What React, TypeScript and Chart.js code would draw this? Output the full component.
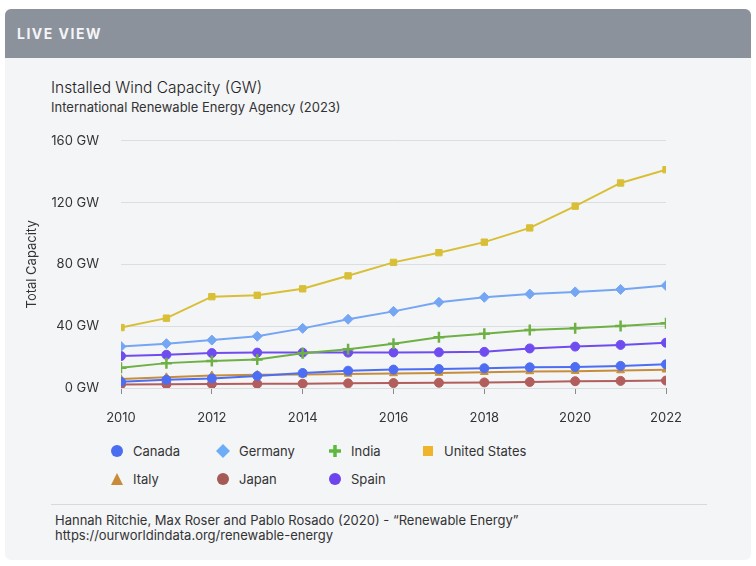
import React, { useEffect, useRef } from "react";
import { Chart, registerables } from "chart.js";

Chart.register(...registerables);

const years = [2010, 2011, 2012, 2013, 2014, 2015, 2016, 2017, 2018, 2019, 2020, 2021, 2022];
const canada = [4.0, 5.3, 6.2, 7.8, 9.7, 11.2, 11.9, 12.3, 12.8, 13.4, 13.6, 14.3, 15.3];
const germany = [26.9, 28.7, 31.0, 33.5, 38.6, 44.5, 49.6, 55.5, 58.7, 60.8, 62.2, 63.8, 66.3];
const india = [13.1, 16.1, 17.4, 18.4, 22.5, 25.1, 28.7, 32.8, 35.1, 37.5, 38.6, 40.1, 41.9];
const unitedStates = [39.1, 45.2, 59.1, 60.0, 64.2, 72.6, 81.3, 87.6, 94.4, 103.6, 117.7, 132.7, 141.3];
const italy = [5.8, 6.9, 8.1, 8.5, 8.7, 9.1, 9.4, 9.7, 10.2, 10.7, 10.9, 11.3, 11.8];
const japan = [2.3, 2.4, 2.6, 2.7, 2.8, 3.0, 3.2, 3.4, 3.6, 3.9, 4.4, 4.6, 4.8];
const spain = [20.7, 21.5, 22.6, 22.9, 22.9, 22.9, 23.0, 23.1, 23.4, 25.6, 26.8, 27.9, 29.3];
const yTicks = [0, 40, 80, 120, 160];

const FONT = "Inter, 'Noto Sans', sans-serif";

type Series = { name: string; values: number[]; color: string; legendColor: string; style: string; radius: number };

const series: Series[] = [
  { name: "United States", values: unitedStates, color: "#d8bf36", legendColor: "#f0b32c", style: "rect", radius: 4.5 },
  { name: "Germany", values: germany, color: "#74a6f4", legendColor: "#6eacf7", style: "rectRot", radius: 5 },
  { name: "India", values: india, color: "#6eb043", legendColor: "#5db83c", style: "cross", radius: 5.5 },
  { name: "Spain", values: spain, color: "#6f4cf0", legendColor: "#6c45ef", style: "circle", radius: 4.5 },
  { name: "Canada", values: canada, color: "#4d6ef2", legendColor: "#4a6ef0", style: "circle", radius: 4.5 },
  { name: "Italy", values: italy, color: "#c68e3c", legendColor: "#c98a3a", style: "triangle", radius: 4.5 },
  { name: "Japan", values: japan, color: "#b25e5c", legendColor: "#a65a55", style: "circle", radius: 4.5 },
];

const legendRows = [
  ["Canada", "Germany", "India", "United States"],
  ["Italy", "Japan", "Spain"],
];
const legendX = [117, 223, 335, 428];

function Marker({ s }: { s: Series }) {
  const c = s.legendColor;
  let shape: React.ReactNode = null;
  if (s.style === "circle") shape = <circle cx={7} cy={7} r={6} fill={c} />;
  else if (s.style === "rect") shape = <rect x={2} y={2} width={10} height={10} fill={c} />;
  else if (s.style === "rectRot") shape = <polygon points="7,0 14,7 7,14 0,7" fill={c} />;
  else if (s.style === "cross")
    shape = (
      <g stroke={c} strokeWidth={3.5}>
        <line x1={7} y1={1} x2={7} y2={13} />
        <line x1={1} y1={7} x2={13} y2={7} />
      </g>
    );
  else if (s.style === "triangle") shape = <polygon points="7,1 13,13 1,13" fill={c} />;
  return (
    <svg width={14} height={14} style={{ position: "absolute", left: -7, top: -7 }}>
      {shape}
    </svg>
  );
}

export default function App() {
  const ref = useRef<HTMLCanvasElement>(null);

  useEffect(() => {
    if (!ref.current) return;
    const chart = new Chart(ref.current, {
      type: "line",
      data: {
        datasets: series.map((s) => ({
          label: s.name,
          data: years.map((y, i) => ({ x: y, y: s.values[i] })),
          borderColor: s.color,
          backgroundColor: s.color,
          pointBackgroundColor: s.color,
          pointBorderColor: s.color,
          pointStyle: s.style as any,
          pointRadius: s.radius,
          pointBorderWidth: s.style === "cross" ? 2.5 : 1,
          borderWidth: 2,
          tension: 0,
        })),
      },
      options: {
        animation: false,
        responsive: false,
        maintainAspectRatio: false,
        layout: { padding: { left: 0, right: 74, top: 20, bottom: 0 } },
        plugins: { legend: { display: false }, tooltip: { enabled: false }, title: { display: false } },
        scales: {
          x: {
            type: "linear",
            min: 2010,
            max: 2022,
            border: { display: false },
            grid: { drawOnChartArea: false, drawTicks: true, tickLength: 6, color: "#8a8a8a" },
            ticks: {
              stepSize: 2,
              padding: 16,
              color: "#333",
              font: { family: FONT, size: 13 },
              callback: (v: any) => String(v),
            },
            afterFit: (scale: any) => {
              scale.height = 52;
            },
          },
          y: {
            type: "linear",
            min: 0,
            max: 160,
            border: { display: false },
            grid: { color: "#dcdde0", drawTicks: false, lineWidth: 1 },
            afterBuildTicks: (scale: any) => {
              scale.ticks = yTicks.map((v) => ({ value: v }));
            },
            ticks: {
              padding: 22,
              color: "#333",
              font: { family: FONT, size: 13 },
              callback: (v: any) => `${v} GW`,
            },
            title: {
              display: true,
              text: "Total Capacity",
              color: "#333",
              font: { family: FONT, size: 13 },
              padding: { top: 4, bottom: 4 },
            },
            afterFit: (scale: any) => {
              scale.width = 101;
            },
          },
        },
      },
    });
    return () => chart.destroy();
  }, []);

  const byName = (n: string) => series.find((s) => s.name === n)!;

  return (
    <div style={{ position: "fixed", left: 0, top: 0, width: 756, height: 566, background: "#fff", fontFamily: FONT, overflow: "hidden" }}>
      <div style={{ position: "absolute", left: 5, top: 9, width: 746, height: 551, background: "#f4f5f7", borderRadius: 6, overflow: "hidden" }}>
        <div style={{ position: "absolute", left: 0, top: 0, width: 746, height: 49, background: "#8c929b" }}>
          <div style={{ position: "absolute", left: 12, top: 16, color: "#f4f5f7", fontSize: 14, fontWeight: 700, letterSpacing: 1.5 }}>LIVE VIEW</div>
        </div>
      </div>
      <div style={{ position: "absolute", left: 51, top: 78, fontSize: 15.5, fontWeight: 300, color: "#222", whiteSpace: "nowrap" }}>Installed Wind Capacity (GW)</div>
      <div style={{ position: "absolute", left: 51, top: 99, fontSize: 13, color: "#333", whiteSpace: "nowrap" }}>International Renewable Energy Agency (2023)</div>
      <canvas ref={ref} width={720} height={329} style={{ position: "absolute", left: 20, top: 111, width: 720, height: 329 }} />
      {legendRows.map((row, ri) =>
        row.map((name, ci) => {
          const s = byName(name);
          return (
            <div key={name} style={{ position: "absolute", left: legendX[ci], top: 451 + ri * 28 }}>
              <Marker s={s} />
              <div style={{ position: "absolute", left: 16, top: -9, fontSize: 13, color: "#333", whiteSpace: "nowrap", lineHeight: "18px" }}>{name}</div>
            </div>
          );
        })
      )}
      <div style={{ position: "absolute", left: 51, top: 504, width: 656, height: 1, background: "#d8d9dc" }} />
      <div style={{ position: "absolute", left: 55, top: 513, fontSize: 13, color: "#333", lineHeight: "15px", whiteSpace: "nowrap" }}>
        Hannah Ritchie, Max Roser and Pablo Rosado (2020) - “Renewable Energy”
        <br />
        https://ourworldindata.org/renewable-energy
      </div>
    </div>
  );
}
